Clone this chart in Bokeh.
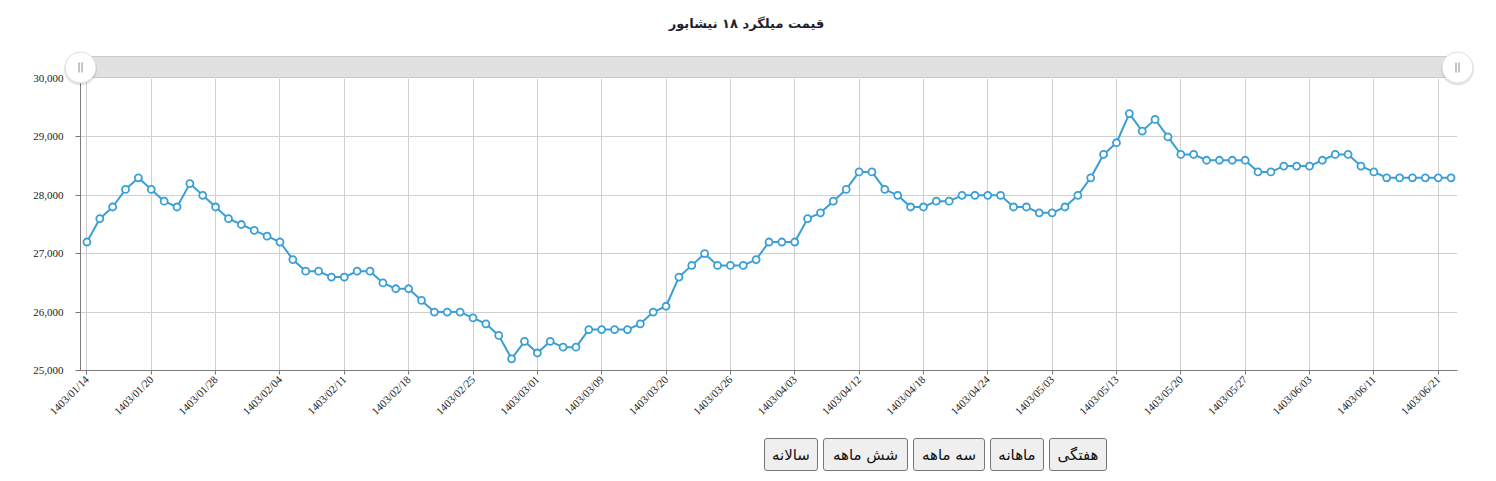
import math
from bokeh.plotting import figure
from bokeh.models import Range1d, FixedTicker, NumeralTickFormatter, Div, ColumnDataSource
from bokeh.layouts import column
from bokeh.embed import file_html
from bokeh.resources import INLINE
from bokeh.core.properties import value

# ---------------- data ----------------
title_text = "قیمت میلگرد ۱۸ نیشابور"

prices = [
    27200, 27600, 27800, 28100, 28300, 28100, 27900, 27800, 28200, 28000,
    27800, 27600, 27500, 27400, 27300, 27200, 26900, 26700, 26700, 26600,
    26600, 26700, 26700, 26500, 26400, 26400, 26200, 26000, 26000, 26000,
    25900, 25800, 25600, 25200, 25500, 25300, 25500, 25400, 25400, 25700,
    25700, 25700, 25700, 25800, 26000, 26100, 26600, 26800, 27000, 26800,
    26800, 26800, 26900, 27200, 27200, 27200, 27600, 27700, 27900, 28100,
    28400, 28400, 28100, 28000, 27800, 27800, 27900, 27900, 28000, 28000,
    28000, 28000, 27800, 27800, 27700, 27700, 27800, 28000, 28300, 28700,
    28900, 29400, 29100, 29300, 29000, 28700, 28700, 28600, 28600, 28600,
    28600, 28400, 28400, 28500, 28500, 28500, 28600, 28700, 28700, 28500,
    28400, 28300, 28300, 28300, 28300, 28300, 28300,
]

tick_index = [0, 5, 10, 15, 20, 25, 30, 35, 40, 45, 50,
              55, 60, 65, 70, 75, 80, 85, 90, 95, 100, 105]
tick_labels = [
    "1403/01/14", "1403/01/20", "1403/01/28", "1403/02/04", "1403/02/11",
    "1403/02/18", "1403/02/25", "1403/03/01", "1403/03/09", "1403/03/20",
    "1403/03/26", "1403/04/03", "1403/04/12", "1403/04/18", "1403/04/24",
    "1403/05/03", "1403/05/13", "1403/05/20", "1403/05/27", "1403/06/03",
    "1403/06/11", "1403/06/21",
]
y_ticks = [25000, 26000, 27000, 28000, 29000, 30000]
buttons = ["هفتگی", "ماهانه", "سه ماهه", "شش ماهه", "سالانه"]
button_widths = [58, 54, 72, 85, 54]

# ---------------- styling ----------------
BLUE = "#3a9fd6"
GRID = "#d0d0d0"
AXIS = "#7a7a7a"

n = len(prices)
x_start, x_end = -0.5, n - 0.5
y_start, y_end = y_ticks[0], y_ticks[-1]

W, H = 1488, 425
ML, MR, MT, MB = 80, 31, 78, 55
frame_h = H - MT - MB
upp = (y_end - y_start) / frame_h          # data units per pixel (y)
xpp = (x_end - x_start) / (W - ML - MR)    # data units per pixel (x)

p = figure(width=W, height=H, x_range=Range1d(x_start, x_end),
           y_range=Range1d(y_start, y_end),
           output_backend="svg", toolbar_location=None,
           min_border_left=ML, min_border_right=MR,
           min_border_top=MT, min_border_bottom=MB)
p.outline_line_color = None
p.background_fill_color = "white"
p.border_fill_color = "white"

# y axis
p.yaxis.ticker = FixedTicker(ticks=y_ticks)
p.yaxis.formatter = NumeralTickFormatter(format="0,0")
p.yaxis.axis_line_color = AXIS
p.yaxis.major_tick_line_color = AXIS
p.yaxis.major_tick_out = 5
p.yaxis.major_tick_in = 0
p.yaxis.minor_tick_line_color = None
p.yaxis.major_label_standoff = 12
p.yaxis.major_label_text_font = "Liberation Serif"
p.yaxis.major_label_text_font_size = "11px"
p.yaxis.major_label_text_color = "#222222"

# x axis
p.xaxis.ticker = FixedTicker(ticks=tick_index)
p.xaxis.major_label_overrides = {i: lab for i, lab in zip(tick_index, tick_labels)}
p.xaxis.major_label_orientation = math.pi / 4
p.xaxis.axis_line_color = AXIS
p.xaxis.major_tick_line_color = AXIS
p.xaxis.major_tick_out = 4
p.xaxis.major_tick_in = 0
p.xaxis.minor_tick_line_color = None
p.xaxis.major_label_standoff = 3
p.xaxis.major_label_text_font = "Liberation Serif"
p.xaxis.major_label_text_font_size = "11px"
p.xaxis.major_label_text_color = "#222222"

p.grid.grid_line_color = GRID
p.grid.grid_line_width = 1

# series
src = ColumnDataSource(dict(x=list(range(n)), y=prices))
p.line("x", "y", source=src, line_color=BLUE, line_width=2)
p.scatter("x", "y", source=src, marker="circle", size=7,
          fill_color="white", line_color=BLUE, line_width=1.8)

# navigator (scrollbar) above the plot area
bar_bottom = y_end + 1 * upp
bar_top = y_end + 22 * upp
p.quad(left=[x_start], right=[x_end], bottom=[bar_bottom], top=[bar_top],
       fill_color="#e1e1e1", line_color="#c9c9c9", line_width=1, level="overlay")
hy = y_end + 11 * upp
p.scatter(x=[x_start, x_end], y=[hy - 1.5 * upp, hy - 1.5 * upp], size=33,
          marker="circle", fill_color="black", fill_alpha=0.10, line_color=None,
          level="overlay")
p.scatter(x=[x_start, x_end], y=[hy, hy], size=31, marker="circle",
          fill_color="white", line_color="#dedede", line_width=1, level="overlay")
gx = [x_start - 1.5 * xpp, x_start + 1.5 * xpp, x_end - 1.5 * xpp, x_end + 1.5 * xpp]
p.segment(x0=gx, x1=gx, y0=[hy - 5 * upp] * 4, y1=[hy + 5 * upp] * 4,
          line_color="#8a8a8a", line_width=1, level="overlay")

# title
p.text(x=[x_start + (746 - ML) * xpp], y=[y_end + (MT - 23) * upp],
       text=[title_text], text_align="center", text_baseline="middle",
       text_font=value("DejaVu Sans"), text_font_style="bold",
       text_font_size="13px", text_color="#1f1f2e", level="overlay")

# buttons
btns = "".join(
    f'<button style="width:{w}px;height:33px;box-sizing:border-box;'
    f'border:1px solid #767676;border-radius:3px;background:#efefef;color:#111;'
    f"font-family:'DejaVu Sans';font-size:15px;padding:0;margin:0;\">{b}</button>"
    for b, w in zip(buttons, button_widths)
)
html = ('<div dir="rtl" style="display:flex;flex-direction:row;gap:5px;'
        'width:343px;margin-left:759px;margin-top:8px;">' + btns + '</div>')
div = Div(text=html, width=W - 10, height=41)

layout = column(p, div)
open("out.html", "w").write(file_html(layout, INLINE))
